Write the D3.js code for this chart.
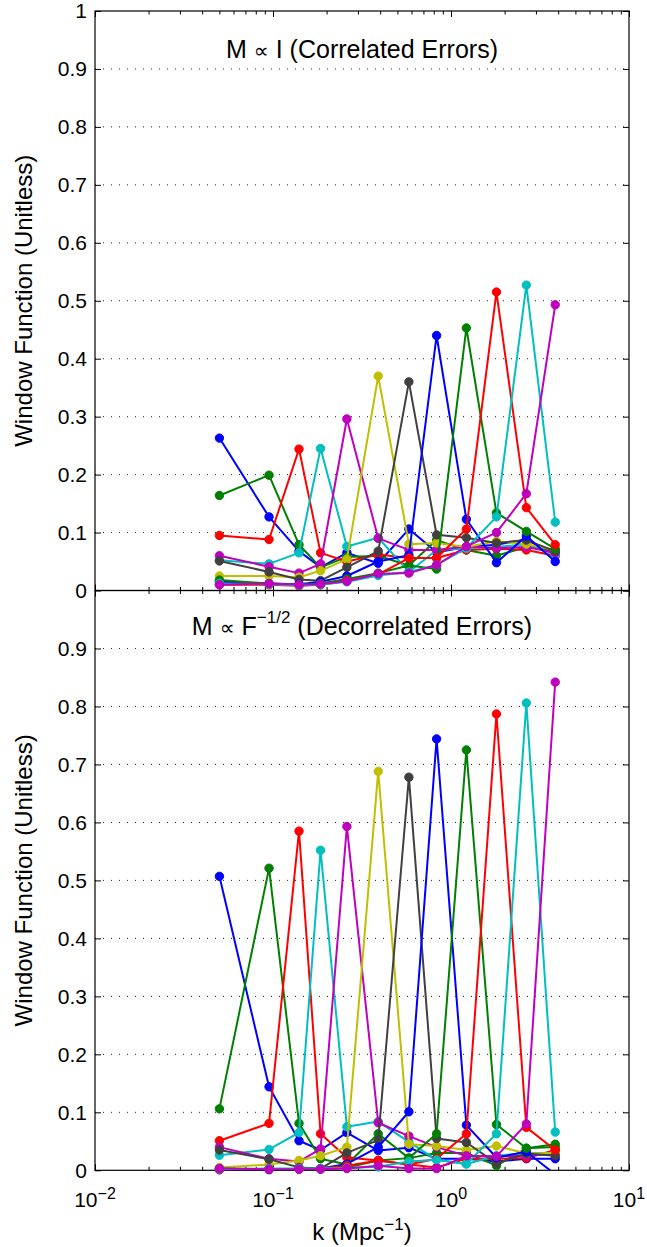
<!DOCTYPE html>
<html>
<head>
<meta charset="utf-8">
<script src="https://cdn.jsdelivr.net/npm/d3@7"></script>
<style>
body { margin: 0; background: #fff; }
text { font-family: "Liberation Sans", Arial, Helvetica, sans-serif; fill: #000; }
.sym { font-family: "DejaVu Sans", sans-serif; }
</style>
</head>
<body>
<svg id="chart" width="647" height="1247"></svg>
<script>
// k bin centres (Mpc^-1)
var kBins = [0.05, 0.095, 0.14, 0.185, 0.26, 0.39, 0.58, 0.83, 1.22, 1.8, 2.65, 3.85];

// matlab default line colours, cycled
var colors = ["#0000ff", "#008000", "#ff0000", "#00bfbf", "#bf00bf", "#bfbf00", "#404040",
              "#0000ff", "#008000", "#ff0000", "#00bfbf", "#bf00bf"];

// top panel: M ~ I (correlated errors), one row per window
var corrSeries = [
  [0.263, 0.127, 0.068, 0.040, 0.065, 0.047, 0.106, 0.066, 0.075, 0.079, 0.088, 0.062],
  [0.164, 0.199, 0.079, 0.040, 0.058, 0.060, 0.043, 0.087, 0.070, 0.060, 0.075, 0.068],
  [0.095, 0.088, 0.244, 0.065, 0.050, 0.062, 0.056, 0.056, 0.070, 0.072, 0.070, 0.060],
  [0.052, 0.046, 0.065, 0.245, 0.076, 0.091, 0.032, 0.070, 0.073, 0.075, 0.080, 0.062],
  [0.060, 0.041, 0.030, 0.046, 0.296, 0.090, 0.070, 0.070, 0.076, 0.073, 0.075, 0.065],
  [0.025, 0.025, 0.023, 0.034, 0.054, 0.370, 0.080, 0.082, 0.075, 0.085, 0.080, 0.070],
  [0.051, 0.032, 0.019, 0.017, 0.040, 0.068, 0.360, 0.096, 0.091, 0.082, 0.087, 0.068],
  [0.015, 0.012, 0.011, 0.015, 0.025, 0.050, 0.061, 0.440, 0.123, 0.048, 0.094, 0.050],
  [0.018, 0.012, 0.010, 0.012, 0.020, 0.030, 0.043, 0.037, 0.453, 0.134, 0.102, 0.072],
  [0.010, 0.010, 0.008, 0.010, 0.017, 0.028, 0.056, 0.056, 0.106, 0.515, 0.143, 0.079],
  [0.012, 0.011, 0.009, 0.010, 0.015, 0.026, 0.032, 0.044, 0.073, 0.127, 0.527, 0.118],
  [0.010, 0.012, 0.010, 0.011, 0.016, 0.029, 0.030, 0.044, 0.076, 0.100, 0.167, 0.493]
];

// bottom panel: M ~ F^-1/2 (decorrelated errors)
var decorrSeries = [
  [0.507, 0.144, 0.051, 0.035, 0.065, 0.034, 0.039, 0.020, 0.020, 0.015, 0.020, 0.020],
  [0.106, 0.521, 0.081, 0.020, 0.010, 0.063, 0.021, 0.030, 0.030, 0.008, 0.038, 0.045],
  [0.051, 0.081, 0.585, 0.063, 0.022, 0.017, 0.010, 0.005, 0.020, 0.020, 0.021, 0.035],
  [0.026, 0.036, 0.065, 0.552, 0.075, 0.084, 0.049, 0.018, 0.011, 0.025, 0.030, 0.030],
  [0.040, 0.020, 0.015, 0.037, 0.593, 0.082, 0.059, 0.040, 0.025, 0.024, 0.025, 0.028],
  [0.005, 0.010, 0.017, 0.025, 0.040, 0.688, 0.045, 0.042, 0.035, 0.042, 0.029, 0.030],
  [0.035, 0.019, 0.005, 0.003, 0.030, 0.052, 0.678, 0.055, 0.048, 0.012, 0.029, 0.025],
  [0.001, 0.001, 0.002, 0.003, 0.011, 0.040, 0.101, 0.744, 0.078, 0.022, 0.032, -0.007],
  [0.003, 0.002, 0.002, 0.002, 0.005, 0.017, 0.021, 0.063, 0.725, 0.079, 0.038, 0.040],
  [0.001, 0.002, 0.002, 0.003, 0.008, 0.017, 0.010, 0.020, 0.063, 0.787, 0.074, 0.035],
  [0.002, 0.003, 0.003, 0.003, 0.004, 0.006, 0.015, 0.018, 0.011, 0.063, 0.806, 0.066],
  [0.003, 0.002, 0.002, 0.002, 0.003, 0.008, 0.003, 0.003, 0.025, 0.024, 0.080, 0.842]
];

var yTicks = [0, 0.1, 0.2, 0.3, 0.4, 0.5, 0.6, 0.7, 0.8, 0.9, 1];
var yTickLabels = ["0", "0.1", "0.2", "0.3", "0.4", "0.5", "0.6", "0.7", "0.8", "0.9", "1"];
var xMajor = [0.01, 0.1, 1, 10];
var xExps = ["\u22122", "\u22121", "0", "1"];

var svg = d3.select("#chart");
svg.append("rect").attr("width", 647).attr("height", 1247).attr("fill", "#fff");

var left = 95, right = 629;
var x = d3.scaleLog().domain([0.01, 10]).range([left, right]);

var xMinor = [];
[0.01, 0.1, 1].forEach(function(d) {
  for (var m = 2; m <= 9; m++) xMinor.push(m * d);
});

function drawPanel(id, series, top, bottom, showOne) {
  var y = d3.scaleLinear().domain([0, 1]).range([bottom, top]);
  var g = svg.append("g").attr("class", "panel-" + id);

  g.append("clipPath").attr("id", "clip-" + id)
    .append("rect").attr("x", left).attr("y", top)
    .attr("width", right - left).attr("height", bottom - top);

  // dotted grid
  g.selectAll("line.grid")
    .data(yTicks.slice(1, 10))
    .enter()
    .append("line")
    .attr("class", "grid")
    .attr("x1", left).attr("x2", right)
    .attr("y1", function(d) { return y(d); })
    .attr("y2", function(d) { return y(d); })
    .attr("stroke", "#222")
    .attr("stroke-width", 1)
    .attr("stroke-dasharray", "1,7");

  // y axes, ticks inward
  var yl = g.append("g").attr("transform", "translate(" + left + ",0)")
    .call(d3.axisLeft(y).tickValues(showOne ? yTicks : yTicks.slice(0, 10))
      .tickSize(-6).tickSizeOuter(0).tickPadding(8)
      .tickFormat(function(d, i) { return yTickLabels[i]; }));
  yl.select(".domain").remove();
  yl.selectAll("text").style("font-size", "21px").attr("fill", "#000");

  var yr = g.append("g").attr("transform", "translate(" + right + ",0)")
    .call(d3.axisRight(y).tickValues(yTicks).tickSize(-6).tickSizeOuter(0).tickFormat(""));
  yr.select(".domain").remove();

  // x ticks on bottom and top, inward
  [[bottom, d3.axisBottom], [top, d3.axisTop]].forEach(function(a) {
    var ax = g.append("g").attr("transform", "translate(0," + a[0] + ")");
    ax.call(a[1](x).tickValues(xMajor).tickSize(-6).tickSizeOuter(0).tickFormat(""));
    ax.append("g").call(a[1](x).tickValues(xMinor).tickSize(-3.5).tickSizeOuter(0).tickFormat(""));
    ax.selectAll(".domain").remove();
  });

  g.selectAll(".tick line").attr("stroke", "#000").attr("stroke-width", 1);

  // axes box
  g.append("rect")
    .attr("x", left).attr("y", top)
    .attr("width", right - left).attr("height", bottom - top)
    .attr("fill", "none").attr("stroke", "#000").attr("stroke-width", 1.2);

  var line = d3.line()
    .x(function(d, i) { return x(kBins[i]); })
    .y(function(d) { return y(d); });

  series.forEach(function(s, si) {
    var sg = g.append("g");
    sg.append("path")
      .datum(s)
      .attr("d", line)
      .attr("clip-path", "url(#clip-" + id + ")")
      .attr("fill", "none")
      .attr("stroke", colors[si])
      .attr("stroke-width", 2)
      .attr("stroke-linejoin", "round");
    sg.selectAll("circle")
      .data(s.map(function(v, i) { return {k: kBins[i], v: v}; }).filter(function(d) { return d.v >= 0; }))
      .enter()
      .append("circle")
      .attr("cx", function(d) { return x(d.k); })
      .attr("cy", function(d) { return y(d.v); })
      .attr("r", 4.2)
      .attr("fill", colors[si])
      .attr("stroke", colors[si])
      .attr("stroke-width", 1);
  });

  // y label
  svg.append("text")
    .attr("transform", "translate(32," + ((top + bottom) / 2) + ") rotate(-90)")
    .attr("text-anchor", "middle")
    .style("font-size", "24px")
    .text("Window Function (Unitless)");

  return y;
}

drawPanel("corr", corrSeries, 11, 590.5, true);
drawPanel("decorr", decorrSeries, 590.5, 1170.3, false);

// titles
var cx = (left + right) / 2;
var t1 = svg.append("text").attr("x", cx).attr("y", 58).attr("text-anchor", "middle")
  .style("font-size", "25px");
t1.append("tspan").text("M ");
t1.append("tspan").attr("class", "sym").style("font-size", "21px").text("\u221d");
t1.append("tspan").text(" I (Correlated Errors)");

var t2 = svg.append("text").attr("x", cx).attr("y", 635).attr("text-anchor", "middle")
  .style("font-size", "25px");
t2.append("tspan").text("M ");
t2.append("tspan").attr("class", "sym").style("font-size", "21px").text("\u221d");
t2.append("tspan").text(" F");
t2.append("tspan").attr("dy", -12).style("font-size", "17px").text("\u22121/2");
t2.append("tspan").attr("dy", 12).text(" (Decorrelated Errors)");

// x tick labels 10^n
xMajor.forEach(function(k, i) {
  var t = svg.append("text").attr("x", x(k)).attr("y", 1207).attr("text-anchor", "middle")
    .style("font-size", "21px");
  t.append("tspan").text("10");
  t.append("tspan").attr("dy", -8).style("font-size", "16px").text(xExps[i]);
});

var xl = svg.append("text").attr("x", cx).attr("y", 1240).attr("text-anchor", "middle")
  .style("font-size", "24px");
xl.append("tspan").text("k (Mpc");
xl.append("tspan").attr("dy", -10).style("font-size", "17px").text("\u22121");
xl.append("tspan").attr("dy", 10).text(")");
</script>
</body>
</html>
